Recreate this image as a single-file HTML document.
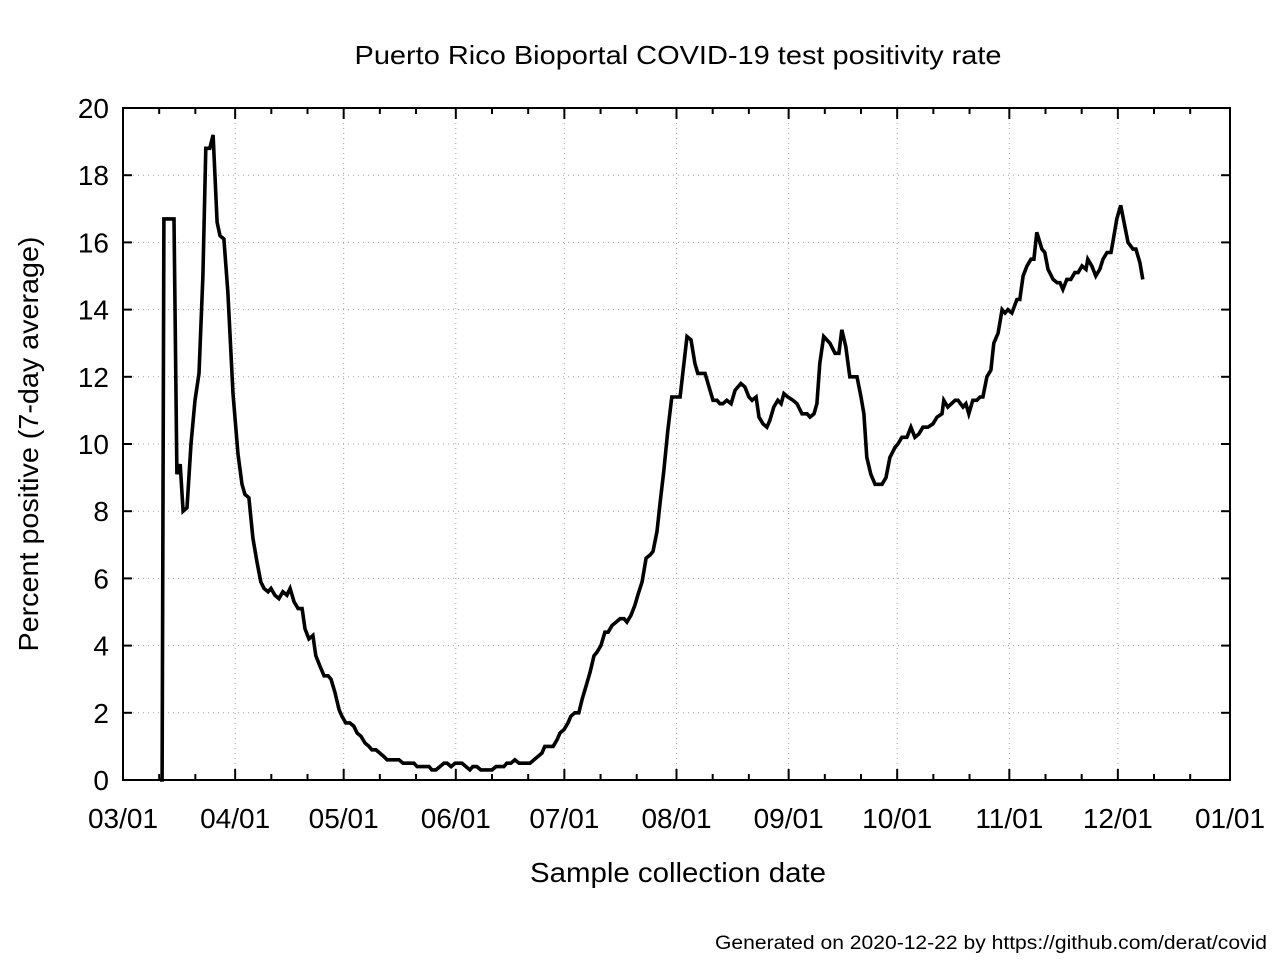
<!DOCTYPE html>
<html><head><meta charset="utf-8"><style>
html,body{margin:0;padding:0;background:#fff;}
svg{display:block;font-family:"Liberation Sans",sans-serif;}
</style></head><body>
<svg id="chart" width="1280" height="960" viewBox="0 0 1280 960">
<rect x="0" y="0" width="1280" height="960" fill="#fff"/>
<text x="678" y="64" font-size="26" text-anchor="middle" textLength="647" lengthAdjust="spacingAndGlyphs">Puerto Rico Bioportal COVID-19 test positivity rate</text>
<g id="grid"></g>
<g id="series"></g>
<g id="axes"></g>
<text x="678" y="882" font-size="28" text-anchor="middle" textLength="296" lengthAdjust="spacingAndGlyphs">Sample collection date</text>
<text transform="translate(38,444) rotate(-90)" font-size="28" text-anchor="middle" textLength="415" lengthAdjust="spacingAndGlyphs">Percent positive (7-day average)</text>
<text x="1267" y="949" font-size="19" text-anchor="end" textLength="552" lengthAdjust="spacingAndGlyphs">Generated on 2020-12-22 by https://github.com/derat/covid</text>
</svg>
<script>
const days = [10.2,10.8,11.3,14.1,14.9,15.8,16.6,17.7,18.8,19.9,21.0,22.1,22.9,24.0,24.9,26.0,26.8,27.9,29.0,30.4,31.8,32.9,33.7,34.8,35.9,37.0,38.1,39.0,40.1,40.9,42.0,43.1,44.2,45.3,46.2,47.3,48.4,49.5,50.3,51.4,52.5,53.3,54.4,55.6,56.7,57.5,58.6,59.7,60.5,61.6,62.7,63.8,64.7,65.8,66.9,68.0,68.8,69.9,71.0,72.1,73.0,74.1,75.2,76.3,77.4,78.2,79.3,80.4,81.3,82.4,83.5,84.6,85.4,86.5,87.6,88.7,89.6,90.7,91.8,92.9,93.7,94.8,95.9,96.7,97.8,98.9,100.1,101.2,102.0,103.1,104.2,105.3,106.1,107.2,108.3,109.5,110.3,111.4,112.5,113.6,114.7,115.8,116.6,117.7,118.9,120.0,120.8,121.9,123.0,123.8,124.9,126.0,126.9,128.0,129.1,130.2,131.0,132.1,133.2,134.1,135.2,136.3,137.4,138.5,139.3,140.4,141.5,142.3,143.5,144.6,145.7,146.5,147.6,148.4,149.5,150.6,151.7,154.0,155.9,157.0,158.1,158.9,160.9,161.7,163.1,164.2,165.0,165.8,166.9,168.1,169.2,170.8,171.9,173.0,173.9,175.0,175.8,176.9,178.0,178.8,179.9,181.0,181.9,182.7,183.8,185.2,186.3,187.7,189.1,189.9,191.0,191.8,192.6,193.7,195.4,196.8,197.9,198.7,199.8,200.9,202.9,204.0,204.8,205.6,206.7,207.9,209.8,210.9,212.0,213.4,214.2,215.3,216.7,217.8,218.9,220.0,221.1,222.5,223.9,225.0,226.4,226.9,228.0,230.0,230.8,232.2,233.0,233.8,234.9,236.0,236.9,237.7,238.8,239.9,240.7,241.9,243.0,243.8,244.6,245.7,247.1,247.9,248.8,249.9,251.0,251.8,252.6,254.0,254.8,255.7,257.1,258.2,259.0,259.8,260.9,262.0,263.1,264.0,265.1,266.2,266.7,267.8,268.9,270.0,270.9,272.0,273.1,273.6,274.7,275.8,276.9,277.8,279.2,280.0,281.1,281.9];
const values = [0,0,16.7,16.7,9.1,9.4,8.0,8.1,10,11.3,12.1,15,18.8,18.8,19.2,16.6,16.2,16.1,14.5,11.5,9.7,8.8,8.5,8.4,7.2,6.5,5.9,5.7,5.6,5.7,5.5,5.4,5.6,5.5,5.7,5.3,5.1,5.1,4.5,4.2,4.3,3.7,3.4,3.1,3.1,3.0,2.6,2.1,1.9,1.7,1.7,1.6,1.4,1.3,1.1,1.0,0.9,0.9,0.8,0.7,0.6,0.6,0.6,0.6,0.5,0.5,0.5,0.5,0.4,0.4,0.4,0.4,0.3,0.3,0.4,0.5,0.5,0.4,0.5,0.5,0.5,0.4,0.3,0.4,0.4,0.3,0.3,0.3,0.3,0.4,0.4,0.4,0.5,0.5,0.6,0.5,0.5,0.5,0.5,0.6,0.7,0.8,1.0,1.0,1.0,1.2,1.4,1.5,1.7,1.9,2.0,2.0,2.4,2.8,3.2,3.7,3.8,4.0,4.4,4.4,4.6,4.7,4.8,4.8,4.7,4.9,5.2,5.5,5.9,6.6,6.7,6.8,7.4,8.2,9.2,10.4,11.4,11.4,13.2,13.1,12.4,12.1,12.1,11.8,11.3,11.3,11.2,11.2,11.3,11.2,11.6,11.8,11.7,11.4,11.3,11.4,10.8,10.6,10.5,10.7,11.1,11.3,11.2,11.5,11.4,11.3,11.2,10.9,10.9,10.8,10.9,11.2,12.4,13.2,13.0,12.7,12.7,13.4,12.9,12.0,12.0,11.4,10.9,9.6,9.1,8.8,8.8,9.0,9.6,9.9,10.0,10.2,10.2,10.5,10.2,10.3,10.5,10.5,10.6,10.8,10.9,11.3,11.1,11.3,11.3,11.1,11.2,10.9,11.3,11.3,11.4,11.4,12.0,12.2,13.0,13.3,14.0,13.9,14.0,13.9,14.3,14.3,15.0,15.3,15.5,15.5,16.3,15.8,15.7,15.2,14.9,14.8,14.8,14.6,14.9,14.9,15.1,15.1,15.3,15.2,15.5,15.3,15.0,15.2,15.5,15.7,15.7,16.0,16.7,17.1,16.5,16.0,15.8,15.8,15.4,14.9];
const monthLabels = ["03/01","04/01","05/01","06/01","07/01","08/01","09/01","10/01","11/01","12/01","01/01"];
const monthDays = [0,31,61,92,122,153,184,214,245,275,306];
const yTicks = [0,2,4,6,8,10,12,14,16,18,20];

const L=123,R=1230,T=108,B=780,XMAX=306,YMAX=20;
const sx=d=>L+(R-L)*d/XMAX;
const sy=v=>B-(B-T)*v/YMAX;
const NS="http://www.w3.org/2000/svg";
function mk(tag,attrs,parent){const e=document.createElementNS(NS,tag);for(const k in attrs)e.setAttribute(k,attrs[k]);parent.appendChild(e);return e;}
const grid=document.getElementById('grid'),axes=document.getElementById('axes'),series=document.getElementById('series');

yTicks.forEach(v=>{
  const y=sy(v);
  if(v>0&&v<YMAX){const g=mk('line',{x1:L,x2:R,y1:y,y2:y,stroke:'#a0a0a0','stroke-width':1,'stroke-dasharray':'1,4'},grid);
  
  }
  const t1=mk('line',{x1:L,x2:L+9,y1:y,y2:y,stroke:'#000','stroke-width':2},axes);
  
  
  const t2=mk('line',{x1:R-9,x2:R,y1:y,y2:y,stroke:'#000','stroke-width':2},axes);
  
  
  const lb=mk('text',{x:L-14,y:y+10,'font-size':28,'text-anchor':'end'},axes);
  lb.textContent=v;
  
  
});
monthDays.forEach((d,i)=>{
  const x=sx(d);
  if(i>0&&i<monthDays.length-1){const g=mk('line',{x1:x,x2:x,y1:T,y2:B,stroke:'#a0a0a0','stroke-width':1,'stroke-dasharray':'1,4'},grid);
  
  }
  const t1=mk('line',{x1:x,x2:x,y1:B,y2:B-11,stroke:'#000','stroke-width':2},axes);
  
  
  const t2=mk('line',{x1:x,x2:x,y1:T,y2:T+11,stroke:'#000','stroke-width':2},axes);
  
  
  if(i<monthDays.length-1){[10,20].forEach(o=>{const mx=sx(d+o);
    const m1=mk('line',{x1:mx,x2:mx,y1:B,y2:B-6,stroke:'#000','stroke-width':2},axes);
    
    
    const m2=mk('line',{x1:mx,x2:mx,y1:T,y2:T+6,stroke:'#000','stroke-width':2},axes);
    
    });}
  const lb=mk('text',{x:x,y:B+48,'font-size':28,'text-anchor':'middle'},axes);
  lb.textContent=monthLabels[i];
  
  
});
const frame=mk('rect',{x:L,y:T,width:R-L,height:B-T,fill:'none',stroke:'#000','stroke-width':2},axes);



const pts=days.map((d,i)=>sx(d).toFixed(1)+','+sy(values[i]).toFixed(1)).join(' ');
const line=mk('polyline',{points:pts,fill:'none',stroke:'#000','stroke-width':3.6,'stroke-linejoin':'miter'},series);


</script>
</body></html>
